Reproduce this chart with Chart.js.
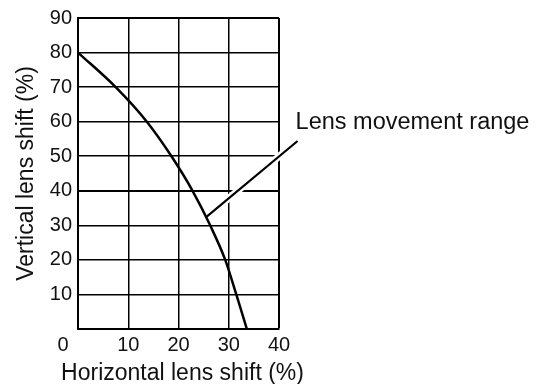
<!DOCTYPE html>
<html>
<head>
<meta charset="utf-8">
<title>Lens shift range</title>
<script src="https://cdn.jsdelivr.net/npm/chart.js@4.4.1/dist/chart.umd.min.js"></script>
<style>
  html, body { margin: 0; padding: 0; background: #fff; }
  canvas { display: block; }
</style>
</head>
<body>
<canvas id="chart" width="545" height="384"></canvas>
<script>
// curve: horizontal shift (%) vs vertical shift (%)
const shiftX = [0, 7.5, 13.7, 18.6, 22.8, 26.3, 29.3, 31.5, 33.6];
const shiftY = [80, 70, 60, 50, 40, 30, 20, 10, 0];

// leader line from the curve to the label
const leaderX = [25.5, 43.7];
const leaderY = [32.4, 54.4];

const xTicks = [0, 10, 20, 30, 40];
const yTicks = [0, 10, 20, 30, 40, 50, 60, 70, 80, 90];

const labelText = "Lens movement range";
const xTitle = "Horizontal lens shift (%)";
const yTitle = "Vertical lens shift (%)";
const FONT = "'Liberation Sans', Arial, Helvetica, sans-serif";
const INK = "#111";

const toPoints = (xs, ys) => xs.map((x, i) => ({ x: x, y: ys[i] }));

// shared "0" at the origin, x title (wider than the axis) and the callout label
const extrasPlugin = {
  id: "extras",
  afterDraw(chart) {
    const ctx = chart.ctx;
    const xs = chart.scales.x;
    const ys = chart.scales.y;
    ctx.save();
    ctx.fillStyle = INK;
    ctx.font = "20px " + FONT;
    ctx.textAlign = "center";
    ctx.textBaseline = "middle";
    ctx.fillText("0", xs.getPixelForValue(xTicks[0]) - 15, ys.getPixelForValue(0) + 16);

    ctx.font = "23px " + FONT;
    ctx.textBaseline = "alphabetic";
    ctx.fillText(xTitle, (xs.left + xs.right) / 2 + 4, 380);

    const endX = xs.getPixelForValue(leaderX[1]);
    const endY = ys.getPixelForValue(leaderY[1]);
    ctx.font = "23.5px " + FONT;
    ctx.textAlign = "left";
    ctx.fillText(labelText, endX - 2, endY - 12);
    ctx.restore();
  }
};

const gridWidth = (c) => (c.tick && (c.tick.value === 40 || c.tick.value === 90) ? 2 : 1.5);

new Chart(document.getElementById("chart"), {
  type: "scatter",
  data: {
    datasets: [
      {
        // white halo under the leader line
        data: toPoints(leaderX, leaderY),
        showLine: true,
        borderColor: "#fff",
        borderWidth: 7,
        pointRadius: 0,
        clip: false,
        order: 3
      },
      {
        data: toPoints(shiftX, shiftY),
        showLine: true,
        borderColor: "#000",
        borderWidth: 2.5,
        pointRadius: 0,
        cubicInterpolationMode: "monotone",
        order: 2
      },
      {
        data: toPoints(leaderX, leaderY),
        showLine: true,
        borderColor: "#000",
        borderWidth: 2.2,
        pointRadius: 0,
        clip: false,
        order: 1
      }
    ]
  },
  options: {
    responsive: false,
    animation: false,
    layout: {
      padding: { top: 17, right: 266, left: 0, bottom: 0 }
    },
    plugins: {
      legend: { display: false },
      tooltip: { enabled: false }
    },
    scales: {
      x: {
        type: "linear",
        min: 0,
        max: 40,
        afterBuildTicks: (scale) => { scale.ticks = xTicks.map(v => ({ value: v })); },
        afterFit: (scale) => { scale.height = 55; },
        grid: { color: "#000", lineWidth: gridWidth, drawTicks: false },
        border: { color: "#000", width: 2 },
        ticks: {
          color: INK,
          font: { family: FONT, size: 20 },
          padding: 4,
          maxRotation: 0,
          callback: (v) => (v === 0 ? "" : v)
        }
      },
      y: {
        type: "linear",
        min: 0,
        max: 90,
        afterBuildTicks: (scale) => { scale.ticks = yTicks.map(v => ({ value: v })); },
        afterFit: (scale) => { scale.width = 78; },
        grid: { color: "#000", lineWidth: gridWidth, drawTicks: false },
        border: { color: "#000", width: 2 },
        ticks: {
          color: INK,
          font: { family: FONT, size: 20 },
          padding: 6,
          callback: (v) => (v === 0 ? "" : v)
        },
        title: {
          display: true,
          text: yTitle,
          color: INK,
          font: { family: FONT, size: 23, lineHeight: 1 },
          padding: { top: 15, bottom: 0 }
        }
      }
    }
  },
  plugins: [extrasPlugin]
});
</script>
</body>
</html>
